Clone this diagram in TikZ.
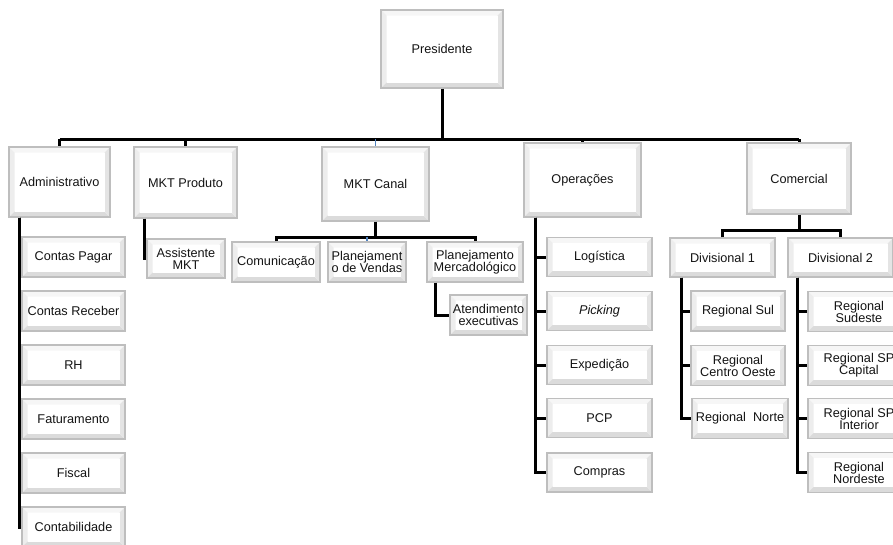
\documentclass[tikz,border=0pt]{standalone}
\usepackage{fontspec}
\setmainfont{Liberation Sans}
\definecolor{linkblue}{HTML}{4F81BD}
\definecolor{rim}{HTML}{BEBEBE}
\newcommand{\bvl}{5.5pt}
\tikzset{
  bevel/.style={path picture={
    \coordinate (nw) at (path picture bounding box.north west);
    \coordinate (ne) at (path picture bounding box.north east);
    \coordinate (sw) at (path picture bounding box.south west);
    \coordinate (se) at (path picture bounding box.south east);
    \coordinate (inw) at ([xshift=\bvl,yshift=-\bvl]nw);
    \coordinate (ine) at ([xshift=-\bvl,yshift=-\bvl]ne);
    \coordinate (isw) at ([xshift=\bvl,yshift=\bvl]sw);
    \coordinate (ise) at ([xshift=-\bvl,yshift=\bvl]se);
    \fill[gray!7]  (nw) -- (ne) -- (ine) -- (inw) -- cycle;
    \fill[gray!14] (nw) -- (inw) -- (isw) -- (sw) -- cycle;
    \fill[gray!28] (sw) -- (isw) -- (ise) -- (se) -- cycle;
    \fill[gray!21] (ne) -- (se) -- (ise) -- (ine) -- cycle;
    \fill[white] (inw) rectangle (ise);
  }},
  box/.style 2 args={bevel, draw=rim, line width=1.1pt,
    minimum width=#1, minimum height=#2, inner sep=0pt, align=center,
    font=\fontsize{12.7}{12}\selectfont, text=black!92},
  conn/.style={line width=3pt, black},
  link/.style={line width=1.4pt, linkblue},
}
\begin{document}
\begin{tikzpicture}[x=1pt,y=-1pt]
\useasboundingbox[fill=white] (0,0) rectangle (893,544);

% top level
\node[box={122pt}{78pt}] (pres) at (442,49) {Presidente};
\node[box={101pt}{70pt}] (adm) at (59.5,182) {Administrativo};
\node[box={103pt}{71pt}] (mkp) at (185.5,182.5) {MKT Produto};
\node[box={107pt}{74pt}] (mkc) at (375.5,184) {MKT Canal};
\node[box={117pt}{74pt}] (ops) at (582.5,180) {Operações};
\node[box={104pt}{71pt}] (com) at (799,178.5) {Comercial};

% administrative branch
\node[box={103pt}{40pt}] (c1) at (73.5,257) {Contas Pagar};
\node[box={103pt}{40pt}] (c2) at (73.5,311) {Contas Receber};
\node[box={103pt}{40pt}] (c3) at (73.5,365) {RH};
\node[box={103pt}{40pt}] (c4) at (73.5,419) {Faturamento};
\node[box={103pt}{40pt}] (c5) at (73.5,473) {Fiscal};
\node[box={103pt}{40pt}] (c6) at (73.5,527) {Contabilidade};

% product marketing
\node[box={78pt}{39pt}] (amk) at (186,258.5) {Assistente\\MKT};

% channel marketing
\node[box={88pt}{40pt}] (cmn) at (276,262) {Comunicação};
\node[box={78pt}{40pt}] (pv) at (367,262) {Planejament\\o de Vendas};
\node[box={96pt}{40pt}] (pm) at (475,262) {Planejamento\\Mercadológico};
\node[box={77pt}{40pt}] (atd) at (488.5,315) {Atendimento\\executivas};

% operations
\node[box={105pt}{39pt}] (o1) at (599.5,257) {Logística};
\node[box={105pt}{39pt}] (o2) at (599.5,311) {\itshape Picking};
\node[box={105pt}{39pt}] (o3) at (599.5,365) {Expedição};
\node[box={105pt}{39pt}] (o4) at (599.5,418) {PCP};
\node[box={105pt}{39pt}] (o5) at (599.5,472.5) {Compras};

% sales
\node[box={105pt}{39pt}] (d1) at (722.5,257.5) {Divisional 1};
\node[box={105pt}{39pt}] (d2) at (840.5,257.5) {Divisional 2};
\node[box={94pt}{40pt}] (r1) at (738,311) {Regional Sul};
\node[box={94pt}{40pt}] (r2) at (738,365.5) {Regional\\Centro Oeste};
\node[box={96pt}{40pt}] (r3) at (740,418.5) {Regional\ \ Norte};
\node[box={102pt}{40pt}] (s1) at (859,311.5) {Regional\\Sudeste};
\node[box={102pt}{40pt}] (s2) at (859,365.5) {Regional SP\\Capital};
\node[box={102pt}{40pt}] (s3) at (859,418.5) {Regional SP\\Interior};
\node[box={102pt}{40pt}] (s4) at (859,472.5) {Regional\\Nordeste};

% main bus
\coordinate (b0) at (0,139);
\draw[conn] (pres.south) -- (pres.south |- b0);
\draw[conn] (adm.north |- b0) -- (com.north |- b0);
\foreach \n in {adm,mkp,ops,com}
  \draw[conn] (\n.north |- b0) -- (\n.north);
\draw[link] (mkc.north |- b0) -- (mkc.north);

% administrative children
\foreach \c in {c1,c2,c3,c4,c5,c6}
  \draw[conn] ([xshift=11pt]adm.south west) |- (\c.west);

% product marketing child
\draw[conn] ([xshift=11pt]mkp.south west) |- (amk.west);

% channel marketing children
\coordinate (b1) at (0,237);
\draw[conn] (mkc.south) -- (mkc.south |- b1);
\draw[conn] (cmn.north) |- (mkc.south |- b1) -| (pm.north);
\draw[link] (pv.north |- b1) -- (pv.north);
\draw[conn] ([xshift=9pt]pm.south west) |- (atd.west);

% operations children
\foreach \c in {o1,o2,o3,o4,o5}
  \draw[conn] ([xshift=12pt]ops.south west) |- (\c.west);

% sales children
\coordinate (b2) at (0,230);
\draw[conn] (com.south) -- (com.south |- b2);
\draw[conn] (d1.north) |- (com.south |- b2) -| (d2.north);
\foreach \c in {r1,r2,r3}
  \draw[conn] ([xshift=12pt]d1.south west) |- (\c.west);
\foreach \c in {s1,s2,s3,s4}
  \draw[conn] ([xshift=10pt]d2.south west) |- (\c.west);
\end{tikzpicture}
\end{document}
